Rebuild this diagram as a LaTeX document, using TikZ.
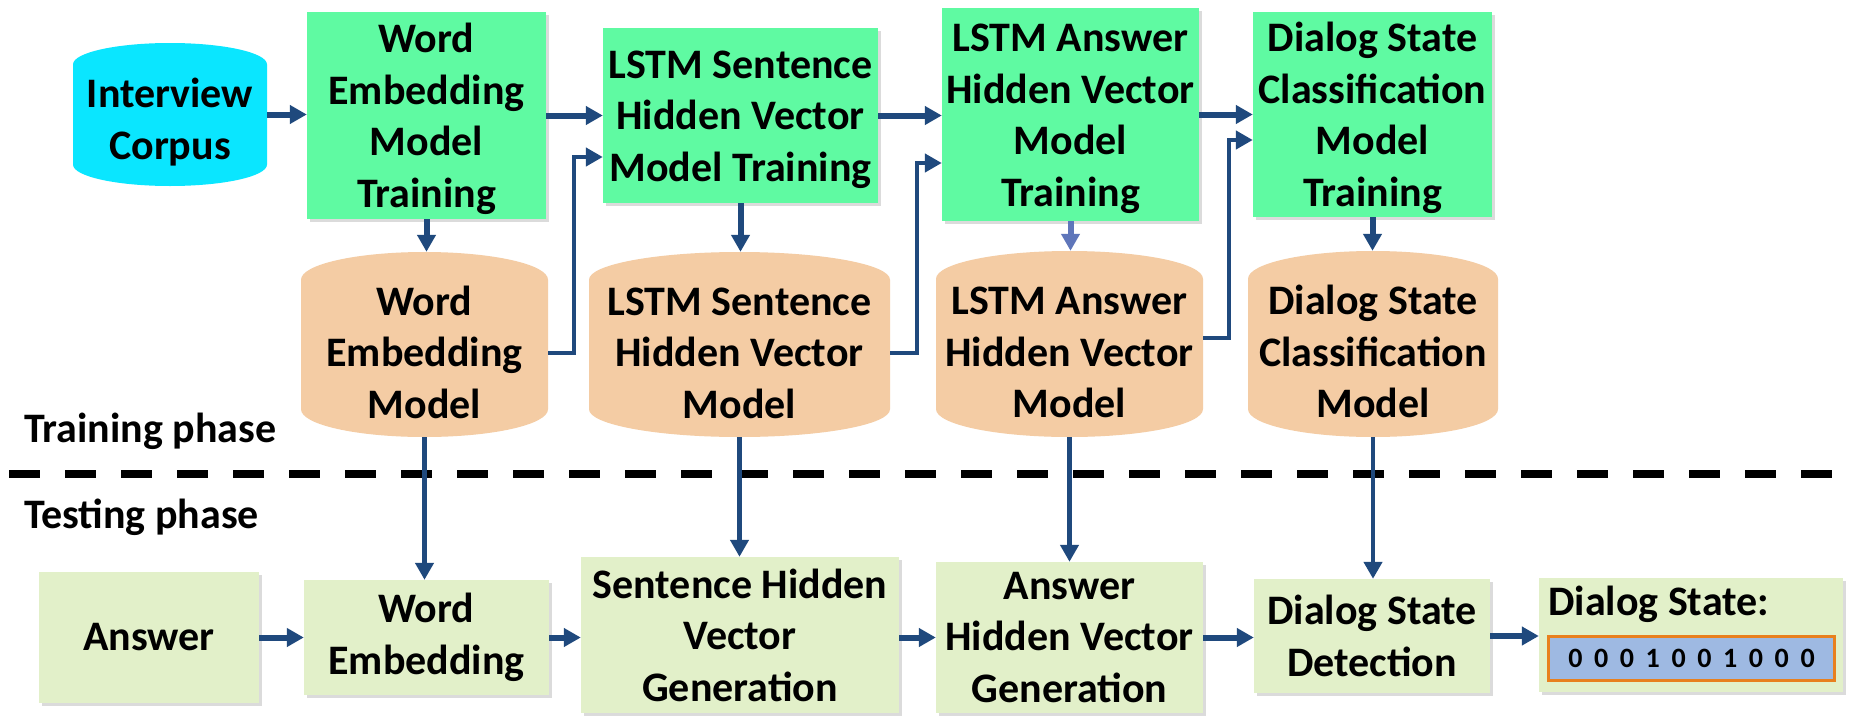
\documentclass[tikz,border=0pt]{standalone}
\usepackage{fontspec}
\setmainfont{Carlito}
\usetikzlibrary{arrows.meta,shadows,calc}
\definecolor{cyanC}{RGB}{10,230,255}
\definecolor{trainG}{RGB}{95,250,162}
\definecolor{peach}{RGB}{244,204,164}
\definecolor{testG}{RGB}{226,240,201}
\definecolor{arrowB}{RGB}{31,73,125}
\definecolor{arrowL}{RGB}{95,118,186}
\definecolor{bitsB}{RGB}{158,185,226}
\definecolor{bitsO}{RGB}{232,128,30}
\newcommand\upl{\rule{0pt}{45pt}}
\newcommand\upb{\rule{0pt}{36pt}}
\newcommand\bg{\hspace{11.6pt}}
\begin{document}
\begin{tikzpicture}[x=1pt,y=-1pt,
 txt/.style={font=\fontsize{42}{51.5}\selectfont\bfseries, align=center, inner sep=0pt, text=black},
 box/.style={txt, rectangle, fill=#1, drop shadow={shadow xshift=3pt,shadow yshift=-3pt,opacity=0.28}},
 cyl/.style={txt, rectangle, path picture={
   \fill[#1] let \p1=(path picture bounding box.north west), \p2=(path picture bounding box.south east),
     \n1={(\x2-\x1)/2}, \n2={0.15*(\y1-\y2)} in
     (\x1,\y1-\n2) arc[start angle=180,end angle=0,x radius=\n1,y radius=\n2]
     -- (\x2,\y2+\n2) arc[start angle=0,end angle=-180,x radius=\n1,y radius=\n2] -- cycle;}},
 arr/.style={draw=arrowB, line width=6pt, -{Triangle[length=17pt,width=18pt]}},
 arrthin/.style={arr, line width=4.5pt}
]
\useasboundingbox[fill=white] (0,0) rectangle (1849,715);

% separator
\coordinate (sepL) at (9,474);
\coordinate (sepR) at (1832,474);
\draw[line width=8.5pt, dash pattern=on 31pt off 25pt] (sepL) -- (sepR);

% top row
\node[cyl=cyanC, minimum width=194pt, minimum height=143pt] (ic) at (170,114.5) {\upl Interview\\Corpus};
\node[box=trainG, minimum width=239pt, minimum height=207pt] (wemt) at (426.5,115.5) {\upb Word\\Embedding\\Model\\Training};
\node[box=trainG, minimum width=275pt, minimum height=175pt] (lsst) at (740.5,115.5) {\upb LSTM Sentence\\Hidden Vector\\Model Training};
\node[box=trainG, minimum width=257pt, minimum height=213pt] (last) at (1070.5,114.5) {\upb LSTM Answer\\Hidden Vector\\Model\\Training};
\node[box=trainG, minimum width=239pt, minimum height=205pt] (dsct) at (1372.5,114.5) {\upb Dialog State\\Classification\\Model\\Training};

% model cylinders
\node[cyl=peach, minimum width=247pt, minimum height=185pt] (wem) at (424.5,344.5) {\upl Word\\Embedding\\Model};
\node[cyl=peach, minimum width=301pt, minimum height=185pt] (lss) at (739.5,344.5) {\upl LSTM Sentence\\Hidden Vector\\Model};
\node[cyl=peach, minimum width=267pt, minimum height=186pt] (las) at (1069.5,344) {\upl LSTM Answer\\Hidden Vector\\Model};
\node[cyl=peach, minimum width=250pt, minimum height=186pt] (dsc) at (1373,344) {\upl Dialog State\\Classification\\Model};

% phase labels
\node[txt, anchor=base west] (trainlbl) at (24,442) {Training phase};
\node[txt, anchor=base west] (testlbl) at (24,528) {Testing phase};

% bottom row
\node[box=testG, minimum width=220pt, minimum height=131pt] (ans) at (149,637.5) {Answer};
\node[box=testG, minimum width=245pt, minimum height=115pt] (we) at (426.5,637.5) {Word\\Embedding};
\node[box=testG, minimum width=318pt, minimum height=156pt] (shvg) at (740,635) {Sentence Hidden\\Vector\\Generation};
\node[box=testG, minimum width=267pt, minimum height=151pt] (ahvg) at (1069.5,637.5) {Answer\\Hidden Vector\\Generation};
\node[box=testG, minimum width=236pt, minimum height=114pt] (dsd) at (1372,636) {Dialog State\\Detection};
\node[box=testG, minimum width=304pt, minimum height=114pt] (ds) at (1691,635) {};
\node[txt, anchor=base west] (dslabel) at (1548,615) {Dialog State:};
\node[txt, fill=bitsB, draw=bitsO, line width=3pt, minimum width=286pt, minimum height=44pt,
      font=\fontsize{28}{30}\selectfont\bfseries] (bits) at (1691.5,658.5) {0\bg0\bg0\bg1\bg0\bg0\bg1\bg0\bg0\bg0};

% top horizontal arrows
\draw[arr] (ic.east) -- (ic.east -| wemt.west);
\draw[arr] (wemt.east) -- (wemt.east -| lsst.west);
\draw[arr] (lsst.east) -- (lsst.east -| last.west);
\draw[arr] (last.east) -- (last.east -| dsct.west);

% training -> model
\draw[arr] (wemt.south) -- (wemt.south |- wem.north);
\draw[arr] (lsst.south) -- (lsst.south |- lss.north);
\draw[arr, draw=arrowL] (last.south) -- (last.south |- las.north);
\draw[arr] (dsct.south) -- (dsct.south |- dsc.north);

% elbows from models to next training
\draw[arrthin] ([yshift=-8.5pt]wem.east) -- ++(26,0) |- ([yshift=-41.5pt]lsst.west);
\draw[arrthin] ([yshift=-8.5pt]lss.east) -- ++(27,0) |- ([yshift=-48.5pt]last.west);
\draw[arrthin] ([yshift=6pt]las.east) -- ++(26,0) |- ([yshift=-25.5pt]dsct.west);

% models -> testing
\draw[arrthin] (wem.south) -- (wem.south |- we.north);
\draw[arrthin] (lss.south) -- (lss.south |- shvg.north);
\draw[arrthin] (las.south) -- (las.south |- ahvg.north);
\draw[arrthin] (dsc.south) -- (dsc.south |- dsd.north);

% bottom horizontal arrows
\draw[arr] (ans.east) -- (ans.east -| we.west);
\draw[arr] (we.east) -- (we.east -| shvg.west);
\draw[arr] (ahvg.west -| shvg.east) -- (ahvg.west);
\draw[arr] (ahvg.east) -- (ahvg.east -| dsd.west);
\draw[arr] (dsd.east) -- (dsd.east -| ds.west);
\end{tikzpicture}
\end{document}
